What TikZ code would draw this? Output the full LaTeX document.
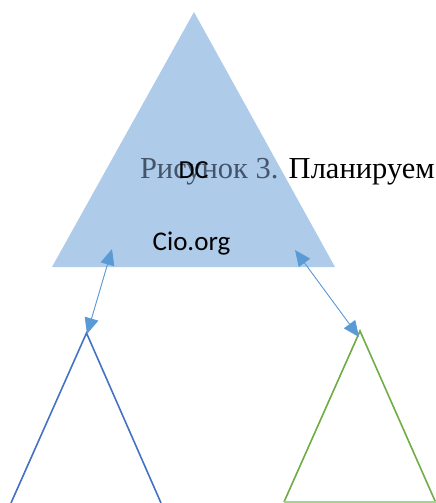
\documentclass[tikz,border=0pt]{standalone}
\usepackage{fontspec}
\setmainfont{Liberation Serif}
\newfontfamily\calib{Carlito}
\usetikzlibrary{arrows.meta}
\definecolor{domfill}{RGB}{174,204,234}
\definecolor{capgray}{RGB}{68,84,106}
\definecolor{linkblue}{RGB}{91,155,213}
\definecolor{treeblue}{RGB}{68,114,196}
\definecolor{treegreen}{RGB}{112,173,71}
\definecolor{treegreenlt}{RGB}{169,209,142}
\tikzset{
  label/.style={inner sep=0pt, outer sep=0pt, anchor=base},
  link/.style={draw=linkblue, line width=0.9pt,
    {Triangle[length=16pt,width=14pt]}-{Triangle[length=16pt,width=14pt]}, fill=linkblue},
}
\begin{document}
\begin{tikzpicture}[x=1pt,y=-1pt]
\useasboundingbox (0,0) rectangle (436,503);
% forest root domain
\fill[domfill] (194,12) -- (335,267) -- (52,267) -- cycle;
% caption text running through the root triangle
\node[label, anchor=base west] (cap) at (140,178)
  {\fontsize{30.5}{36}\selectfont\textcolor{capgray}{Рисунок 3.} Планируем};
\node[label] (dc) at (193.5,178) {\calib\fontsize{26}{30}\selectfont DC};
\node[label] (org) at (191.5,250) {\calib\fontsize{27}{32}\selectfont Cio.org};
% child domains
\coordinate (lt) at (86.5,333);
\coordinate (rt) at (360,331);
\draw[treeblue, line width=1.6pt] (11,503) -- (lt) -- (161,503);
\draw[treegreen, line width=1.6pt] (284,502) -- (rt) -- (435.5,502);
\draw[treegreenlt, line width=1.2pt] (284,502) -- (435.5,502);
% trust links
\coordinate (la) at (112,249);
\coordinate (lb) at (87,334);
\coordinate (ra) at (295,250);
\coordinate (rb) at (359,337);
\draw[link] (la) -- (lb);
\draw[link] (ra) -- (rb);
\end{tikzpicture}
\end{document}
